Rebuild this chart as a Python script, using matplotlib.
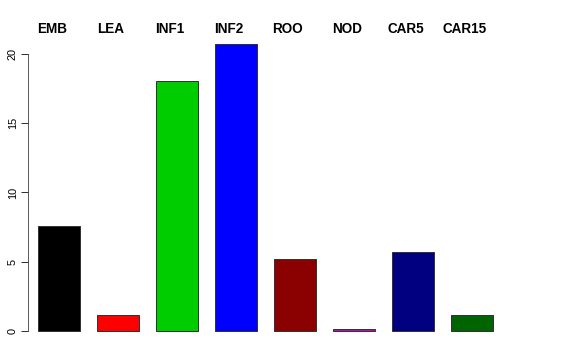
import matplotlib
matplotlib.use('Agg')
import matplotlib.pyplot as plt

# tissue categories and values
tissues = ['EMB', 'LEA', 'INF1', 'INF2', 'ROO', 'NOD', 'CAR5', 'CAR15']
values = [7.6, 1.15, 18.05, 20.75, 5.2, 0.15, 5.7, 1.15]
colors = ['#000000', '#FF0000', '#00CD00', '#0000FF', '#8B0000',
          '#CD00CD', '#000080', '#006400']
yticks = [0, 5, 10, 15, 20]

plt.rcParams['font.family'] = ['Liberation Sans', 'DejaVu Sans']

fig = plt.figure(figsize=(8, 5), dpi=72)
W, H = 576, 360
# plot region in pixels: left 28, right 548, top 31.5, bottom 343
ax = fig.add_axes([28 / W, (H - 343) / H, 520 / W, (343 - 31.5) / H])

x = list(range(len(tissues)))
ax.bar(x, values, width=0.714, color=colors, edgecolor='#333333', linewidth=1)

ax.set_xlim(-0.525, -0.525 + 520 / 59)
ax.set_ylim(-0.87, 21.62)

for s in ['top', 'right', 'bottom']:
    ax.spines[s].set_visible(False)
ax.spines['left'].set_bounds(0, 20)
ax.spines['left'].set_color('#333333')
ax.set_xticks([])
ax.set_yticks(yticks)
ax.set_yticklabels([str(t) for t in yticks], rotation=90, va='center', fontsize=11)
ax.tick_params(axis='y', length=7, width=1, color='#333333', pad=3)

# labels above the plot region
for xi, name in zip(x, tissues):
    ax.text(xi - 0.12, 1.0 + 2.5 / (343 - 31.5), name, transform=ax.get_xaxis_transform(),
            ha='center', va='center', fontsize=13.5, fontweight='bold')

fig.savefig('out.png', dpi=72)
plt.close(fig)
